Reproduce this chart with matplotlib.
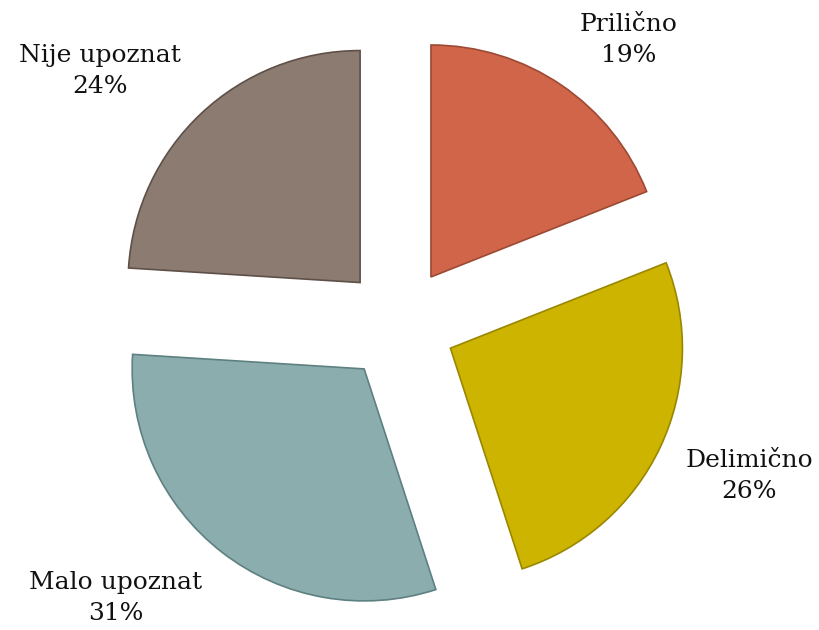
import numpy as np
import matplotlib
matplotlib.use("Agg")
import matplotlib.pyplot as plt

labels = ["Prilično", "Delimično", "Malo upoznat", "Nije upoznat"]
values = [19, 26, 31, 24]
colors = ["#D0654A", "#CCB400", "#8BADAD", "#8B7B70"]
edges = ["#9C4A33", "#9A8700", "#5F8080", "#5E5048"]
# label anchor points (data units, radius = 1)
label_pos = [(0.99, 1.225), (1.51, -0.655), (-1.22, -1.18), (-1.29, 1.09)]

fig = plt.figure(figsize=(8.2, 6.3), dpi=100)
ax = fig.add_axes([0, 0, 1, 1])

wedges, _ = ax.pie(values, colors=colors, startangle=90, counterclock=False,
                   explode=[0.245] * 4, radius=1.0,
                   wedgeprops=dict(linewidth=1.2))
for w, ec in zip(wedges, edges):
    w.set_edgecolor(ec)

for lab, v, (x, y) in zip(labels, values, label_pos):
    ax.text(x, y, f"{lab}\n{v}%", ha="center", va="center", fontsize=18,
            family="DejaVu Serif", linespacing=1.45, color="#111111")

ax.set_aspect("equal")
ax.set_xlim(-399 / 232, (820 - 399) / 232)
ax.set_ylim(-(630 - 324) / 232, 324 / 232)
ax.axis("off")

fig.savefig("out.png", dpi=100)
